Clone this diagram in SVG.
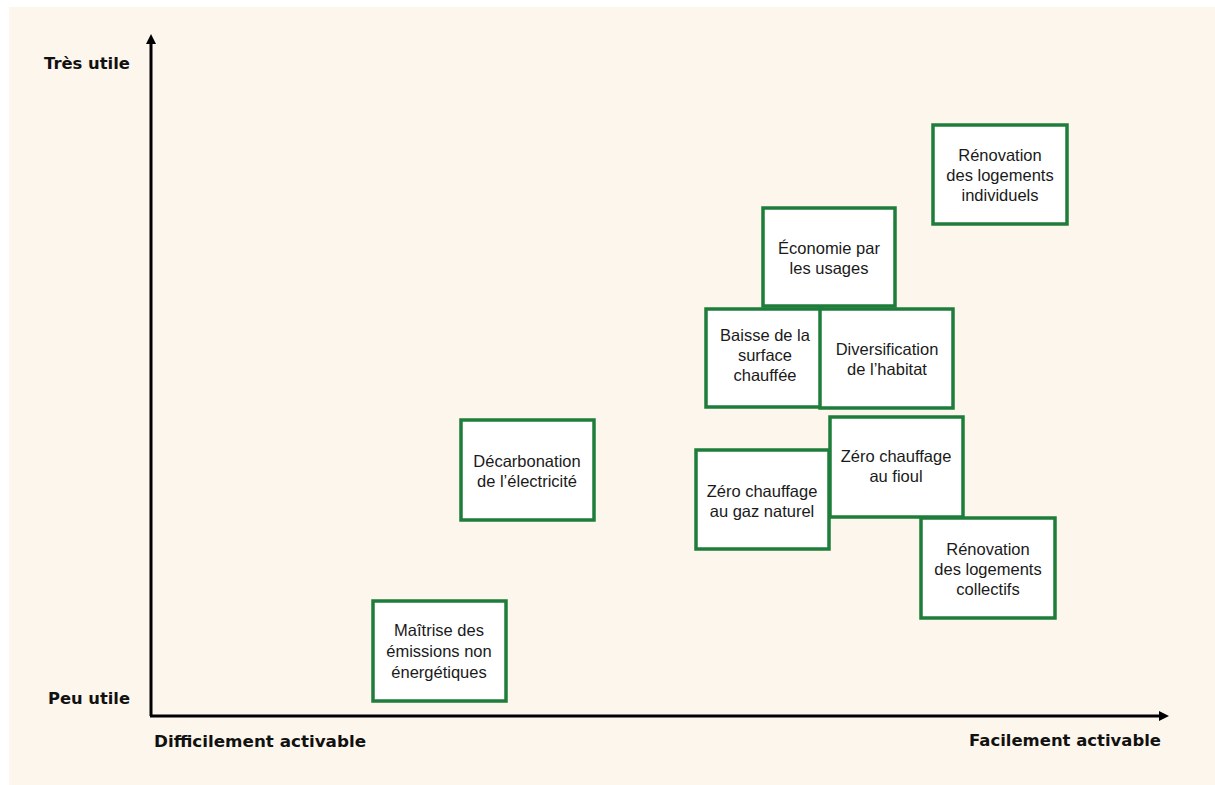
<svg xmlns="http://www.w3.org/2000/svg" width="1215" height="785" viewBox="0 0 1215 785">
<style>
.bg{fill:#fdf6ec}
.box{fill:#ffffff;stroke:#1e7d3a;stroke-width:3.5}
.t{font-family:"Liberation Sans",Arial,sans-serif;font-size:16.5px;fill:#1a1a1a;text-anchor:middle}
.ax{font-family:"DejaVu Sans","Liberation Sans",sans-serif;font-weight:bold;font-size:15px;fill:#111}
.axis{stroke:#000;stroke-width:3;fill:none}
</style>
<defs>
<marker id="ah" markerWidth="10" markerHeight="10" refX="2" refY="5" orient="auto" markerUnits="userSpaceOnUse" viewBox="0 0 10 10">
<path d="M0,0 L10,5 L0,10 Z" fill="#000"/>
</marker>
</defs>
<rect x="0" y="0" width="1215" height="785" fill="#ffffff"/>
<rect class="bg" x="9" y="7" width="1206" height="778"/>
<g id="axes">
<path class="axis" d="M151,716 L151,42" marker-end="url(#ah)"/>
<path class="axis" d="M150,716 L1161,716" marker-end="url(#ah)"/>
<text class="ax" x="44" y="69" textLength="86" lengthAdjust="spacingAndGlyphs">Très utile</text>
<text class="ax" x="48" y="704" textLength="82" lengthAdjust="spacingAndGlyphs">Peu utile</text>
<text class="ax" x="154" y="747" textLength="212" lengthAdjust="spacingAndGlyphs">Difficilement activable</text>
<text class="ax" x="969" y="746" textLength="192" lengthAdjust="spacingAndGlyphs">Facilement activable</text>
</g>
<g id="n-renov-indiv">
<rect class="box" x="933" y="125" width="134" height="99"/>
<text class="t" x="1000" y="161">Rénovation</text>
<text class="t" x="1000" y="181">des logements</text>
<text class="t" x="1000" y="201">individuels</text>
</g>
<g id="n-economie">
<rect class="box" x="763" y="208" width="132" height="98"/>
<text class="t" x="829" y="254">Économie par</text>
<text class="t" x="829" y="274">les usages</text>
</g>
<g id="n-baisse">
<rect class="box" x="706" y="309" width="116" height="98"/>
<text class="t" x="765" y="341">Baisse de la</text>
<text class="t" x="765" y="361">surface</text>
<text class="t" x="765" y="381">chauffée</text>
</g>
<g id="n-diversif">
<rect class="box" x="820" y="309" width="133" height="99"/>
<text class="t" x="887" y="355">Diversification</text>
<text class="t" x="887" y="375">de l’habitat</text>
</g>
<g id="n-decarb">
<rect class="box" x="461" y="420" width="133" height="100"/>
<text class="t" x="527" y="467">Décarbonation</text>
<text class="t" x="527" y="487">de l’électricité</text>
</g>
<g id="n-gaz">
<rect class="box" x="696" y="450" width="133" height="99"/>
<text class="t" x="762" y="497">Zéro chauffage</text>
<text class="t" x="762" y="517">au gaz naturel</text>
</g>
<g id="n-fioul">
<rect class="box" x="830" y="417" width="133" height="100"/>
<text class="t" x="896" y="462">Zéro chauffage</text>
<text class="t" x="896" y="482">au fioul</text>
</g>
<g id="n-renov-coll">
<rect class="box" x="921" y="518" width="134" height="100"/>
<text class="t" x="988" y="555">Rénovation</text>
<text class="t" x="988" y="575">des logements</text>
<text class="t" x="988" y="595">collectifs</text>
</g>
<g id="n-maitrise">
<rect class="box" x="373" y="601" width="133" height="100"/>
<text class="t" x="439" y="636">Maîtrise des</text>
<text class="t" x="439" y="657">émissions non</text>
<text class="t" x="439" y="678">énergétiques</text>
</g>
</svg>
